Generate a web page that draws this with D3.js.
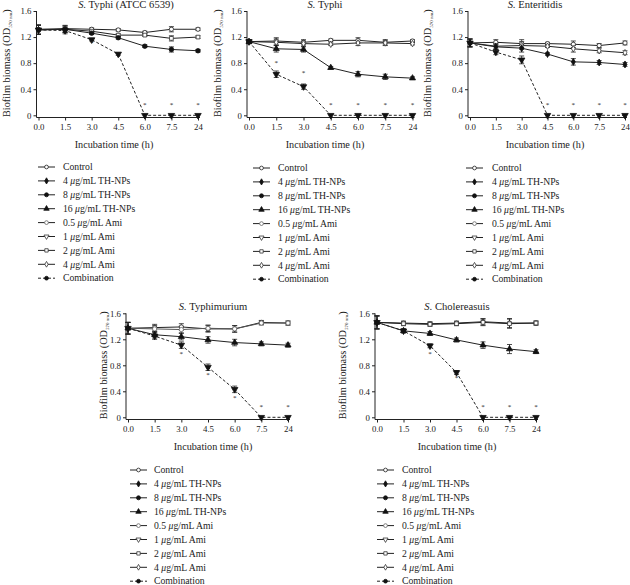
<!DOCTYPE html>
<html><head><meta charset="utf-8">
<script src="https://cdn.jsdelivr.net/npm/d3@7"></script>
<style>
body{margin:0;background:#fff}
svg{display:block}
text{font-family:"Liberation Serif","DejaVu Serif",serif;fill:#222}
</style></head><body>
<svg id="c" width="630" height="585"></svg>
<script>
// ---------- data ----------
const timeLabels = ["0.0","1.5","3.0","4.5","6.0","7.5","24"];
const yTickValues = [0, 0.4, 0.8, 1.2, 1.6];
const legendLabels = ["Control","4 μg/mL TH-NPs","8 μg/mL TH-NPs","16 μg/mL TH-NPs","0.5 μg/mL Ami","1 μg/mL Ami","2 μg/mL Ami","4 μg/mL Ami","Combination"];
const panelTitles = [["S.", " Typhi (ATCC 6539)"],["S.", " Typhi"],["S.", " Enteritidis"],["S.", " Typhimurium"],["S.", " Cholereasuis"]];

// Panel 1: S. Typhi (ATCC 6539)
const p1Control = [1.32,1.33,1.32,1.31,1.27,1.32,1.32];
const p1Ami2 = [1.31,1.32,1.29,1.23,1.23,1.18,1.20];
const p1TH8 = [1.31,1.32,1.26,1.19,1.06,1.01,0.99];
const p1Comb = [1.31,1.30,1.16,0.94,0,0,0];
const p1Sd = [0.07,0.05,0.02,0.02,0.02,0.04,0.02];
const p1Stars = [[2,1.12],[4,0.17],[5,0.17],[6,0.17]];

// Panel 2: S. Typhi
const p2Control = [1.13,1.14,1.12,1.15,1.15,1.12,1.14];
const p2Ami4 = [1.13,1.12,1.10,1.09,1.11,1.11,1.10];
const p2TH16 = [1.13,1.02,1.01,0.73,0.63,0.59,0.57];
const p2Comb = [1.13,0.63,0.44,0,0,0,0];
const p2Sd = [0.03,0.05,0.04,0.02,0.04,0.04,0.02];
const p2Stars = [[1,0.82],[2,0.66],[3,0.18],[4,0.18],[5,0.18],[6,0.18]];

// Panel 3: S. Enteritidis
const p3Control = [1.11,1.12,1.10,1.10,1.09,1.07,1.11];
const p3Ami4 = [1.11,1.06,1.07,1.06,1.02,0.99,0.96];
const p3TH4 = [1.11,1.05,1.03,0.94,0.82,0.81,0.78];
const p3Comb = [1.11,0.97,0.85,0,0,0,0];
const p3Sd = [0.06,0.04,0.06,0.02,0.05,0.03,0.03];
const p3Stars = [[3,0.17],[4,0.17],[5,0.17],[6,0.17]];

// Panel 4: S. Typhimurium
const p4Control = [1.37,1.38,1.39,1.36,1.36,1.46,1.45];
const p4Ami05 = [1.37,1.36,1.35,1.37,1.36,1.45,1.45];
const p4TH16 = [1.37,1.27,1.24,1.19,1.15,1.13,1.11];
const p4Comb = [1.37,1.25,1.11,0.77,0.43,0,0];
const p4Sd = [0.09,0.05,0.05,0.05,0.05,0.03,0.03];
const p4Stars = [[2,0.99],[3,0.66],[4,0.32],[5,0.17],[6,0.17]];

// Panel 5: S. Cholereasuis
const p5Control = [1.46,1.45,1.44,1.45,1.47,1.45,1.45];
const p5Ami2 = [1.46,1.44,1.43,1.44,1.46,1.44,1.45];
const p5TH16 = [1.46,1.33,1.29,1.19,1.11,1.05,1.01];
const p5Comb = [1.46,1.33,1.10,0.69,0,0,0];
const p5Sd = [0.10,0.03,0.03,0.03,0.05,0.07,0.03];
const p5Stars = [[2,0.99],[3,0.62],[4,0.17],[5,0.17],[6,0.17]];

// ---------- styles ----------
const styles = {
  control:{sym:d3.symbolCircle, fill:"#fff", stroke:"#222", size:14},
  th4:{sym:d3.symbolDiamond, fill:"#111", stroke:"#111", size:14},
  th8:{sym:d3.symbolCircle, fill:"#111", stroke:"#111", size:16},
  th16:{sym:d3.symbolTriangle, fill:"#111", stroke:"#111", size:16},
  ami05:{sym:d3.symbolCircle, fill:"#fff", stroke:"#666", size:14},
  ami1:{sym:d3.symbolTriangle, fill:"#fff", stroke:"#333", size:14, rot:180},
  ami2:{sym:d3.symbolSquare, fill:"#fff", stroke:"#333", size:14},
  ami4:{sym:d3.symbolDiamond, fill:"#fff", stroke:"#333", size:12},
  combLegend:{sym:d3.symbolCircle, fill:"#111", stroke:"#111", size:14, dash:"3,2"},
  comb:{sym:d3.symbolTriangle, fill:"#111", stroke:"#111", size:18, rot:180, dash:"3,2"}
};
const legendStyleKeys = ["control","th4","th8","th16","ami05","ami1","ami2","ami4","combLegend"];
const legendScale = 0.8;

const panels = [
  {title:panelTitles[0], x0:38.5, x1:198, yAxisX:36.5, yt:11, yb:115.3, series:[[p1Control,"control"],[p1Ami2,"ami2"],[p1TH8,"th8"],[p1Comb,"comb"]], sd:p1Sd, stars:p1Stars, ylabX:6, titleX:126, xlabX:114, legX:38, legTextX:63, legY:167},
  {title:panelTitles[1], x0:249, x1:412.5, yAxisX:247, yt:11, yb:115.3, series:[[p2Control,"control"],[p2Ami4,"ami4"],[p2TH16,"th16"],[p2Comb,"comb"]], sd:p2Sd, stars:p2Stars, ylabX:217, titleX:325, xlabX:325, legX:253, legTextX:278, legY:168},
  {title:panelTitles[2], x0:470, x1:625, yAxisX:468, yt:11, yb:115.3, series:[[p3Control,"control"],[p3Ami4,"ami4"],[p3TH4,"th4"],[p3Comb,"comb"]], sd:p3Sd, stars:p3Stars, ylabX:427, titleX:535, xlabX:545, legX:466, legTextX:492, legY:168},
  {title:panelTitles[3], x0:128, x1:288, yAxisX:126, yt:313.3, yb:417.3, series:[[p4Control,"control"],[p4Ami05,"ami05"],[p4TH16,"th16"],[p4Comb,"comb"]], sd:p4Sd, stars:p4Stars, ylabX:103, titleX:213, xlabX:213, legX:130, legTextX:154, legY:470},
  {title:panelTitles[4], x0:377, x1:536, yAxisX:375, yt:313.3, yb:417.3, series:[[p5Control,"control"],[p5Ami2,"ami2"],[p5TH16,"th16"],[p5Comb,"comb"]], sd:p5Sd, stars:p5Stars, ylabX:342, titleX:457, xlabX:457, legX:377, legTextX:402, legY:470}
];

const svg = d3.select("#c");

function drawSymbol(g, st, x, y, scale){
  g.append("path")
    .attr("d", d3.symbol().type(st.sym).size(st.size * (scale || 1))())
    .attr("transform", `translate(${x},${y})` + (st.rot ? ` rotate(${st.rot})` : ""))
    .attr("fill", st.fill).attr("stroke", st.stroke).attr("stroke-width", 0.8);
}

function addMuText(sel, label){
  const parts = label.split("μ");
  sel.append("tspan").text(parts[0]);
  for (let i=1;i<parts.length;i++){
    sel.append("tspan").attr("font-style","italic").text("μ");
    sel.append("tspan").text(parts[i]);
  }
}

panels.forEach(p => {
  const g = svg.append("g");
  const x = d3.scalePoint().domain(timeLabels).range([p.x0, p.x1]);
  const y = d3.scaleLinear().domain([0,1.6]).range([p.yb, p.yt]);
  const axisY = p.yb + 2.2;

  // y axis
  const ya = g.append("g").attr("transform", `translate(${p.yAxisX},0)`)
    .call(d3.axisLeft(y).tickValues(yTickValues).tickSize(3).tickSizeOuter(0)
      .tickFormat(d => d === 0 ? "0" : d3.format(".1f")(d)));
  ya.select(".domain").remove();
  ya.selectAll("line").attr("stroke","#222");
  ya.selectAll("text").attr("font-size", 8.8).attr("fill","#333").attr("x",-5)
    .style("font-family","'Liberation Serif',serif");
  g.append("line").attr("x1",p.yAxisX).attr("x2",p.yAxisX).attr("y1",p.yt).attr("y2",axisY).attr("stroke","#222");

  // x axis
  const xa = g.append("g").attr("transform", `translate(0,${axisY})`)
    .call(d3.axisBottom(x).tickSize(3).tickSizeOuter(0));
  xa.select(".domain").remove();
  xa.selectAll("line").attr("stroke","#222");
  xa.selectAll("text").attr("font-size", 8.8).attr("fill","#333").attr("y",6)
    .style("font-family","'Liberation Serif',serif");
  g.append("line").attr("x1",p.yAxisX).attr("x2",p.x1+2).attr("y1",axisY).attr("y2",axisY).attr("stroke","#222");

  // title
  const t = g.append("text").attr("x", p.titleX).attr("y", p.yt - 3.5).attr("text-anchor","middle").attr("font-size",10.6);
  t.append("tspan").attr("font-style","italic").text(p.title[0]);
  t.append("tspan").text(p.title[1]);

  // x label
  g.append("text").attr("x", p.xlabX).attr("y", p.yb + 33).attr("text-anchor","middle").attr("font-size",10.2).text("Incubation time (h)");

  // y label
  const yl = g.append("text").attr("transform", `translate(${p.ylabX + 3.5},${(p.yt+p.yb)/2}) rotate(-90)`)
    .attr("text-anchor","middle").attr("font-size",10.3);
  yl.append("tspan").text("Biofilm biomass (OD");
  yl.append("tspan").attr("font-size",5).attr("dy",2).text("570 nm");
  yl.append("tspan").attr("dy",-2).text(")");

  // lines
  const line = d3.line().x((d,i) => x(timeLabels[i])).y(d => y(d));
  p.series.forEach(([vals, key]) => {
    const st = styles[key];
    g.append("path").attr("d", line(vals)).attr("fill","none")
      .attr("stroke", key === "ami05" ? "#555" : "#222").attr("stroke-width", 1)
      .attr("stroke-dasharray", st.dash || null);
  });

  // error bars
  p.series.forEach(([vals, key]) => {
    vals.forEach((v,i) => {
      if (v === 0) return;
      const e = p.sd[i];
      const cx = x(timeLabels[i]);
      g.append("line").attr("x1",cx).attr("x2",cx).attr("y1",y(v+e)).attr("y2",y(v-e)).attr("stroke","#222").attr("stroke-width",0.8);
      [v+e, v-e].forEach(w => g.append("line").attr("x1",cx-2.5).attr("x2",cx+2.5).attr("y1",y(w)).attr("y2",y(w)).attr("stroke","#222").attr("stroke-width",0.8));
    });
  });

  // markers
  p.series.forEach(([vals, key]) => {
    const st = styles[key];
    vals.forEach((v,i) => drawSymbol(g, st, x(timeLabels[i]), y(v)));
  });

  // significance stars
  p.stars.forEach(([i, v]) => {
    g.append("text").attr("x", x(timeLabels[i])).attr("y", y(v) + 3).attr("text-anchor","middle")
      .attr("font-size",7).attr("fill","#555").text("*");
  });

  // legend
  legendLabels.forEach((lab, k) => {
    const st = styles[legendStyleKeys[k]];
    const ly = p.legY + k * 13.9;
    g.append("line").attr("x1",p.legX).attr("x2",p.legX+17).attr("y1",ly).attr("y2",ly)
      .attr("stroke","#222").attr("stroke-width",1).attr("stroke-dasharray", st.dash || null);
    drawSymbol(g, st, p.legX + 8.5, ly, legendScale);
    const tx = g.append("text").attr("x", p.legTextX).attr("y", ly + 3.2).attr("font-size", 9.7);
    addMuText(tx, lab);
  });
});
</script>
</body></html>
